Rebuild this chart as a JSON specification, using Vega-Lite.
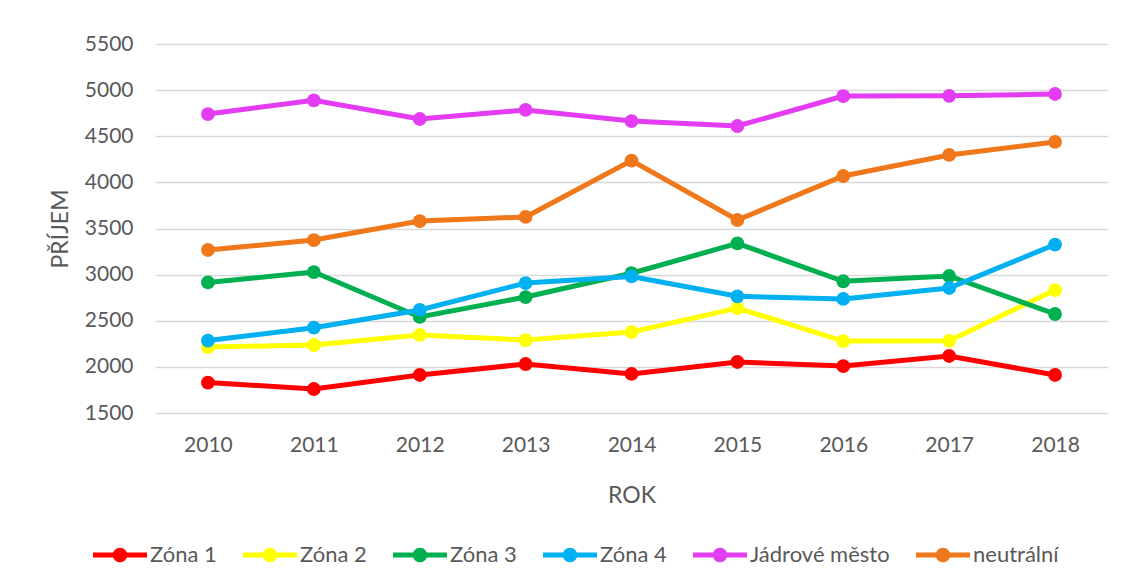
{
  "$schema": "https://vega.github.io/schema/vega-lite/v6.json",
  "width": 953,
  "height": 369,
  "autosize": {"type": "none"},
  "padding": {"left": 155, "top": 44, "right": 18, "bottom": 173},
  "background": "white",
  "config": {
    "view": {"stroke": null},
    "font": "Lato",
    "axis": {"labelFont": "Lato", "titleFont": "Lato", "labelColor": "#595959", "titleColor": "#595959", "labelFontSize": 21, "titleFontSize": 23, "titleFontWeight": "normal", "ticks": false, "domain": false},
    "legend": {"labelFont": "Lato", "labelFontSize": 22, "labelColor": "#595959"}
  },
  "data": {
    "values": [
      {"rok": "2010", "zona": "Zóna 1", "prijem": 1830},
      {"rok": "2011", "zona": "Zóna 1", "prijem": 1760},
      {"rok": "2012", "zona": "Zóna 1", "prijem": 1912},
      {"rok": "2013", "zona": "Zóna 1", "prijem": 2031},
      {"rok": "2014", "zona": "Zóna 1", "prijem": 1923},
      {"rok": "2015", "zona": "Zóna 1", "prijem": 2053},
      {"rok": "2016", "zona": "Zóna 1", "prijem": 2009},
      {"rok": "2017", "zona": "Zóna 1", "prijem": 2118},
      {"rok": "2018", "zona": "Zóna 1", "prijem": 1912},
      {"rok": "2010", "zona": "Zóna 2", "prijem": 2215},
      {"rok": "2011", "zona": "Zóna 2", "prijem": 2237},
      {"rok": "2012", "zona": "Zóna 2", "prijem": 2346},
      {"rok": "2013", "zona": "Zóna 2", "prijem": 2291},
      {"rok": "2014", "zona": "Zóna 2", "prijem": 2378},
      {"rok": "2015", "zona": "Zóna 2", "prijem": 2638},
      {"rok": "2016", "zona": "Zóna 2", "prijem": 2280},
      {"rok": "2017", "zona": "Zóna 2", "prijem": 2282},
      {"rok": "2018", "zona": "Zóna 2", "prijem": 2833},
      {"rok": "2010", "zona": "Zóna 3", "prijem": 2915},
      {"rok": "2011", "zona": "Zóna 3", "prijem": 3028},
      {"rok": "2012", "zona": "Zóna 3", "prijem": 2541},
      {"rok": "2013", "zona": "Zóna 3", "prijem": 2757},
      {"rok": "2014", "zona": "Zóna 3", "prijem": 3015},
      {"rok": "2015", "zona": "Zóna 3", "prijem": 3338},
      {"rok": "2016", "zona": "Zóna 3", "prijem": 2928},
      {"rok": "2017", "zona": "Zóna 3", "prijem": 2985},
      {"rok": "2018", "zona": "Zóna 3", "prijem": 2573},
      {"rok": "2010", "zona": "Zóna 4", "prijem": 2285},
      {"rok": "2011", "zona": "Zóna 4", "prijem": 2425},
      {"rok": "2012", "zona": "Zóna 4", "prijem": 2617},
      {"rok": "2013", "zona": "Zóna 4", "prijem": 2909},
      {"rok": "2014", "zona": "Zóna 4", "prijem": 2980},
      {"rok": "2015", "zona": "Zóna 4", "prijem": 2765},
      {"rok": "2016", "zona": "Zóna 4", "prijem": 2736},
      {"rok": "2017", "zona": "Zóna 4", "prijem": 2855},
      {"rok": "2018", "zona": "Zóna 4", "prijem": 3326},
      {"rok": "2010", "zona": "Jádrové město", "prijem": 4741},
      {"rok": "2011", "zona": "Jádrové město", "prijem": 4890},
      {"rok": "2012", "zona": "Jádrové město", "prijem": 4687},
      {"rok": "2013", "zona": "Jádrové město", "prijem": 4785},
      {"rok": "2014", "zona": "Jádrové město", "prijem": 4665},
      {"rok": "2015", "zona": "Jádrové město", "prijem": 4611},
      {"rok": "2016", "zona": "Jádrové město", "prijem": 4936},
      {"rok": "2017", "zona": "Jádrové město", "prijem": 4938},
      {"rok": "2018", "zona": "Jádrové město", "prijem": 4958},
      {"rok": "2010", "zona": "neutrální", "prijem": 3267},
      {"rok": "2011", "zona": "neutrální", "prijem": 3375},
      {"rok": "2012", "zona": "neutrální", "prijem": 3581},
      {"rok": "2013", "zona": "neutrální", "prijem": 3625},
      {"rok": "2014", "zona": "neutrální", "prijem": 4236},
      {"rok": "2015", "zona": "neutrální", "prijem": 3592},
      {"rok": "2016", "zona": "neutrální", "prijem": 4069},
      {"rok": "2017", "zona": "neutrální", "prijem": 4297},
      {"rok": "2018", "zona": "neutrální", "prijem": 4438}
    ]
  },
  "encoding": {
    "x": {"field": "rok", "type": "ordinal", "title": "ROK",
      "axis": {"labelAngle": 0, "labelPadding": 21, "titlePadding": 29, "grid": false}},
    "y": {"field": "prijem", "type": "quantitative", "title": "PŘÍJEM",
      "scale": {"domain": [1500, 5500], "nice": false, "zero": false},
      "axis": {"values": [1500, 2000, 2500, 3000, 3500, 4000, 4500, 5000, 5500], "format": "d", "labelPadding": 22, "titlePadding": 12, "grid": true, "gridColor": "#D9D9D9", "gridWidth": 1.5}},
    "color": {"field": "zona", "type": "nominal", "title": null,
      "scale": {"domain": ["Zóna 1", "Zóna 2", "Zóna 3", "Zóna 4", "Jádrové město", "neutrální"],
        "range": ["#FF0000", "#FFFF00", "#00B050", "#00B0F0", "#E33CF2", "#F0771A"]},
      "legend": {"orient": "none", "direction": "horizontal", "legendX": -62, "legendY": 484,
        "symbolType": "M-1,-0.09L1,-0.09L1,0.09L-1,0.09Z M-0.27,0A0.27,0.27 0 1,1 0.27,0A0.27,0.27 0 1,1 -0.27,0Z",
        "symbolSize": 2916, "symbolStrokeWidth": 0, "symbolOpacity": 1, "labelOffset": 3, "columnPadding": 26}}
  },
  "layer": [
    {"mark": {"type": "line", "strokeWidth": 5}},
    {"mark": {"type": "point", "filled": true, "size": 190, "opacity": 1}}
  ]
}
